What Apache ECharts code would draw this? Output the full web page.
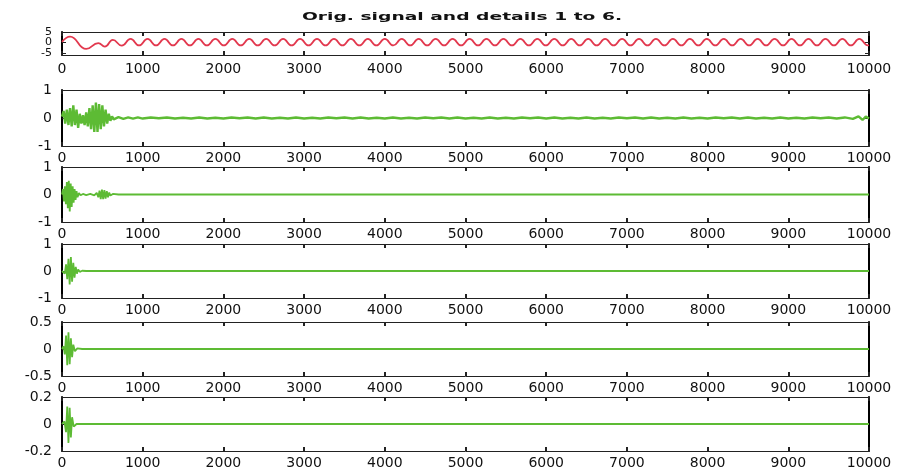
<!DOCTYPE html>
<html>
<head>
<meta charset="utf-8">
<title>Orig. signal and details 1 to 6.</title>
<script src="https://cdn.jsdelivr.net/npm/echarts@6/dist/echarts.min.js"></script>
<style>
  html, body { margin: 0; padding: 0; background: #fff; }
  #main { width: 908px; height: 473px; }
</style>
</head>
<body>
<div id="main"></div>
<script>
// title of the figure
var TITLE = "Orig. signal and details 1 to 6.";

// x ticks (shared by all six panels)
var xTicks = [0, 1000, 2000, 3000, 4000, 5000, 6000, 7000, 8000, 9000, 10000];

// y range and tick labels per panel
var yMin = [-6, -1, -1, -1, -0.5, -0.2];
var yMax = [5, 1, 1, 1, 0.5, 0.2];
var yTicks = [
  [-5, 0, 5],
  [-1, 0, 1],
  [-1, 0, 1],
  [-1, 0, 1],
  [-0.5, 0, 0.5],
  [-0.2, 0, 0.2]
];

// original signal (red) - extrema
var origX = [0, 100, 300, 450, 530, 630, 740,
  850, 955, 1060, 1165, 1270, 1375, 1480, 1585, 1690, 1795,
  1900, 2005, 2110, 2215, 2320, 2425, 2530, 2635, 2740, 2845,
  2950, 3055, 3160, 3265, 3370, 3475, 3580, 3685, 3790, 3895,
  4000, 4105, 4210, 4315, 4420, 4525, 4630, 4735, 4840, 4945,
  5050, 5155, 5260, 5365, 5470, 5575, 5680, 5785, 5890, 5995,
  6100, 6205, 6310, 6415, 6520, 6625, 6730, 6835, 6940, 7045,
  7150, 7255, 7360, 7465, 7570, 7675, 7780, 7885, 7990, 8095,
  8200, 8305, 8410, 8515, 8620, 8725, 8830, 8935, 9040, 9145,
  9250, 9355, 9460, 9565, 9670, 9775, 9880, 9985, 10000];
var origY = [0.3, 2.8, -3.1, -0.3, -2.0, 1.2, -1.5,
  1.7, -1.4, 1.7, -1.4, 1.7, -1.4, 1.7, -1.4, 1.7, -1.4,
  1.7, -1.4, 1.7, -1.4, 1.7, -1.4, 1.7, -1.4, 1.7, -1.4,
  1.7, -1.4, 1.7, -1.4, 1.7, -1.4, 1.7, -1.4, 1.7, -1.4,
  1.7, -1.4, 1.7, -1.4, 1.7, -1.4, 1.7, -1.4, 1.7, -1.4,
  1.7, -1.4, 1.7, -1.4, 1.7, -1.4, 1.7, -1.4, 1.7, -1.4,
  1.7, -1.4, 1.7, -1.4, 1.7, -1.4, 1.7, -1.4, 1.7, -1.4,
  1.7, -1.4, 1.7, -1.4, 1.7, -1.4, 1.7, -1.4, 1.7, -1.4,
  1.7, -1.4, 1.7, -1.4, 1.7, -1.4, 1.7, -1.4, 1.7, -1.4,
  1.7, -1.4, 1.7, -1.4, 1.7, -1.4, 1.7, -1.4, -1.3];

// detail 1
var d1X = [0, 20, 40, 60, 80, 100, 120, 140, 160, 180, 200, 220, 240, 260, 280, 300,
  320, 340, 360, 380, 400, 420, 440, 460, 480, 500, 520, 540, 560, 580, 600, 620, 640,
  700, 760, 820, 880, 940, 1000, 1100, 1200, 1300, 1400, 1500, 1600, 1700, 1800, 1900,
  2000, 2100, 2200, 2300, 2400, 2500, 2600, 2700, 2800, 2900, 3000, 3100, 3200, 3300,
  3400, 3500, 3600, 3700, 3800, 3900, 4000, 4100, 4200, 4300, 4400, 4500, 4600, 4700,
  4800, 4900, 5000, 5100, 5200, 5300, 5400, 5500, 5600, 5700, 5800, 5900, 6000, 6100,
  6200, 6300, 6400, 6500, 6600, 6700, 6800, 6900, 7000, 7100, 7200, 7300, 7400, 7500,
  7600, 7700, 7800, 7900, 8000, 8100, 8200, 8300, 8400, 8500, 8600, 8700, 8800, 8900,
  9000, 9100, 9200, 9300, 9400, 9500, 9600, 9700, 9800, 9870, 9920, 9960, 10000];
var d1Y = [0.05, 0.25, -0.2, 0.3, -0.25, 0.35, -0.3, 0.45, -0.25, 0.3, -0.35, 0.15, -0.2, 0.1, -0.25, 0.2,
  -0.3, 0.35, -0.4, 0.45, -0.5, 0.55, -0.5, 0.5, -0.4, 0.45, -0.3, 0.3, -0.2, 0.15, -0.1, 0.06, -0.05,
  0.03, -0.03, 0.02, -0.02, 0.02, -0.02, 0.02, -0.01, 0.02, -0.02, 0.01, -0.02, 0.02, -0.02, 0.01,
  -0.02, 0.02, -0.01, 0.02, -0.02, 0.02, -0.02, 0.01, -0.02, 0.02, -0.02, 0.01, -0.02, 0.02,
  -0.01, 0.02, -0.02, 0.02, -0.02, 0.01, -0.02, 0.02, -0.02, 0.01, -0.02, 0.02, -0.01, 0.02,
  -0.02, 0.02, -0.02, 0.01, -0.02, 0.02, -0.02, 0.01, -0.02, 0.02, -0.01, 0.02, -0.02, 0.02,
  -0.02, 0.01, -0.02, 0.02, -0.02, 0.01, -0.02, 0.02, -0.01, 0.02, -0.02, 0.02, -0.02, 0.01,
  -0.02, 0.02, -0.02, 0.01, -0.02, 0.02, -0.01, 0.02, -0.02, 0.02, -0.02, 0.01, -0.02, 0.02,
  -0.02, 0.01, -0.02, 0.02, -0.01, 0.02, -0.02, 0.02, -0.03, 0.06, -0.07, 0.05, -0.02];

// detail 2
var d2X = [0, 12, 24, 36, 48, 60, 72, 84, 96, 108, 120, 132, 144, 156, 168, 180, 192, 210, 230,
  260, 300, 350, 400, 430, 450, 465, 480, 495, 510, 525, 540, 555, 570, 585, 600, 630, 700, 10000];
var d2Y = [0, 0.2, -0.25, 0.3, -0.35, 0.45, -0.5, 0.5, -0.62, 0.4, -0.45, 0.3, -0.3, 0.2, -0.2, 0.12, -0.1, 0.05, -0.03,
  0.02, -0.02, 0.02, -0.03, 0.06, -0.1, 0.14, -0.17, 0.18, -0.17, 0.16, -0.15, 0.12, -0.1, 0.07, -0.04, 0.02, 0, 0];

// detail 3
var d3X = [0, 20, 35, 50, 65, 80, 95, 110, 125, 140, 155, 170, 185, 200, 220, 250, 300, 10000];
var d3Y = [0, 0.05, -0.1, 0.25, -0.3, 0.45, -0.5, 0.52, -0.4, 0.3, -0.25, 0.15, -0.1, 0.06, -0.03, 0.01, 0, 0];

// detail 4
var d4X = [0, 20, 35, 50, 65, 80, 95, 110, 125, 140, 160, 190, 250, 10000];
var d4Y = [0, 0.05, -0.1, 0.25, -0.3, 0.31, -0.28, 0.2, -0.15, 0.08, -0.04, 0.01, 0, 0];

// detail 5
var d5X = [0, 30, 50, 65, 80, 95, 110, 125, 145, 180, 10000];
var d5Y = [0, 0.02, -0.06, 0.13, -0.14, 0.12, -0.1, 0.05, -0.02, 0, 0];

var seriesX = [origX, d1X, d2X, d3X, d4X, d5X];
var seriesY = [origY, d1Y, d2Y, d3Y, d4Y, d5Y];

// layout of the six panels (px)
var panelTop = [32, 90, 167, 244, 322, 397];
var panelH = [23, 56, 55, 54, 54, 54];

var FONT = "DejaVu Sans";
var AXIS = "#222";

function zip(xs, ys) {
  var out = [];
  for (var i = 0; i < xs.length; i++) out.push([xs[i], ys[i]]);
  return out;
}

var grid = [], xAxis = [], yAxis = [], series = [];
for (var i = 0; i < 6; i++) {
  grid.push({ left: 62, right: 39, top: panelTop[i], height: panelH[i], show: false });
  // bottom axis with labels
  xAxis.push({
    gridIndex: i, type: "value", position: "bottom", min: 0, max: 10000, interval: 1000,
    axisLine: { show: true, onZero: false, lineStyle: { color: AXIS, width: 1 } },
    axisTick: { show: true, inside: true, length: 4, customValues: xTicks, lineStyle: { color: AXIS, width: 2 } },
    axisLabel: { show: true, margin: i === 0 ? 7 : 5, color: "#111", fontSize: 14, fontFamily: FONT,
      customValues: xTicks, formatter: function (v) { return String(v); } },
    splitLine: { show: false }
  });
  // top axis, ticks only
  xAxis.push({
    gridIndex: i, type: "value", position: "top", min: 0, max: 10000, interval: 1000,
    axisLine: { show: true, onZero: false, lineStyle: { color: AXIS, width: 1 } },
    axisTick: { show: true, inside: true, length: 4, customValues: xTicks, lineStyle: { color: AXIS, width: 2 } },
    axisLabel: { show: false },
    splitLine: { show: false }
  });
  // left axis with labels (the squeezed top panel only gets its middle label here)
  yAxis.push({
    gridIndex: i, type: "value", position: "left", min: yMin[i], max: yMax[i],
    axisLine: { show: true, onZero: false, lineStyle: { color: "#000", width: 2 } },
    axisTick: { show: true, inside: true, length: 4, customValues: yTicks[i], lineStyle: { color: AXIS } },
    axisLabel: { show: true, margin: 10, color: "#111", fontSize: i === 0 ? 11 : 14, fontFamily: FONT,
      customValues: i === 0 ? [0] : yTicks[i] },
    splitLine: { show: false }
  });
  // right axis, ticks only
  yAxis.push({
    gridIndex: i, type: "value", position: "right", min: yMin[i], max: yMax[i],
    axisLine: { show: true, onZero: false, lineStyle: { color: "#000", width: 2 } },
    axisTick: { show: true, inside: true, length: 4, customValues: yTicks[i], lineStyle: { color: AXIS } },
    axisLabel: { show: false },
    splitLine: { show: false }
  });
  series.push({
    type: "line",
    xAxisIndex: 2 * i,
    yAxisIndex: 2 * i,
    data: zip(seriesX[i], seriesY[i]),
    showSymbol: false,
    smooth: i === 0 ? 0.5 : false,
    lineStyle: { color: i === 0 ? "#e2384e" : "#5dbb34", width: i === 1 ? 2.4 : 1.8 },
    silent: true
  });
}

// extra left axis on the top panel carrying the outer labels (5 and -5),
// so the crowded labels are not dropped as overlapping
yAxis.push({
  gridIndex: 0, type: "value", position: "left", min: yMin[0], max: yMax[0],
  axisLine: { show: false, onZero: false },
  axisTick: { show: false },
  axisLabel: { show: true, margin: 10, color: "#111", fontSize: 11, fontFamily: FONT,
    customValues: [yTicks[0][0], yTicks[0][2]] },
  splitLine: { show: false }
});

var myChart = echarts.init(document.getElementById("main"));
myChart.setOption({
  backgroundColor: "#fff",
  animation: false,
  grid: grid,
  xAxis: xAxis,
  yAxis: yAxis,
  series: series,
  // title drawn as a horizontally stretched text, like the squeezed original figure
  graphic: [{
    type: "text",
    x: 462,
    y: 17,
    scaleX: 1.7,
    scaleY: 1,
    style: {
      text: TITLE,
      font: "bold 11px 'DejaVu Sans'",
      fill: "#111",
      align: "center",
      verticalAlign: "middle"
    }
  }]
});
</script>
</body>
</html>
